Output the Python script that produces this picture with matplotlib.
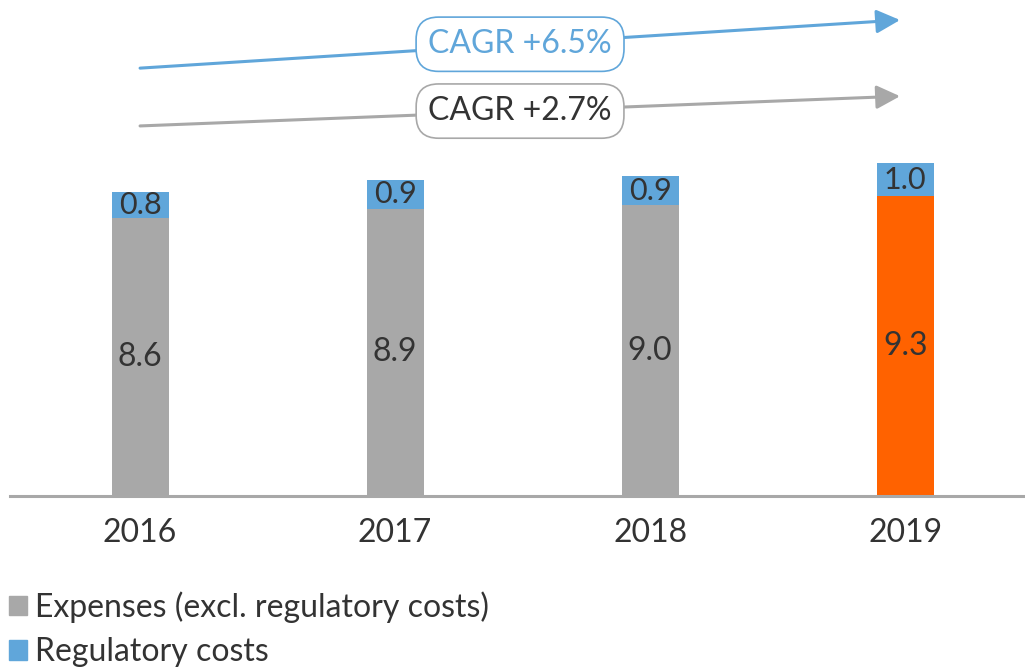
import matplotlib.pyplot as plt
from matplotlib.patches import Patch

years = ['2016', '2017', '2018', '2019']
expenses = [8.6, 8.9, 9.0, 9.3]
regulatory = [0.8, 0.9, 0.9, 1.0]
cagr_labels = ['CAGR +6.5%', 'CAGR +2.7%']

grey = '#A8A8A8'
blue = '#60A6DA'
orange = '#FF6200'
txt = '#333333'

plt.rcParams['font.family'] = ['Lato', 'DejaVu Sans']

fig = plt.figure(figsize=(10.25, 6.7), dpi=100)
# axes spans from the baseline up to the top of the figure
ax = fig.add_axes([10 / 1025, 174 / 670, 1015 / 1025, 496 / 670])

x = list(range(len(years)))
exp_colors = [grey, grey, grey, orange]
ax.bar(x, expenses, width=0.224, color=exp_colors)
ax.bar(x, regulatory, width=0.224, bottom=expenses, color=blue)

for i in x:
    ax.text(i, expenses[i] / 2, f'{expenses[i]:.1f}', ha='center', va='center',
            fontsize=23, color=txt)
    ax.text(i, expenses[i] + regulatory[i] / 2, f'{regulatory[i]:.1f}', ha='center',
            va='center', fontsize=22, color=txt)

ax.set_xlim(-0.51, 3.47)
ax.set_ylim(0, 15.36)

for s in ['top', 'left', 'right']:
    ax.spines[s].set_visible(False)
ax.spines['bottom'].set_color(grey)
ax.spines['bottom'].set_linewidth(2.2)
ax.set_yticks([])
ax.set_xticks(x)
ax.set_xticklabels(years, fontsize=23, color=txt)
ax.tick_params(axis='x', length=0, pad=16)

# CAGR arrows
ax.annotate('', xy=(2.98, 14.74), xytext=(0, 13.25),
            arrowprops=dict(arrowstyle='-|>', color=blue, lw=2.2, mutation_scale=36,
                            shrinkA=0, shrinkB=0), annotation_clip=False)
ax.annotate('', xy=(2.98, 12.38), xytext=(0, 11.46),
            arrowprops=dict(arrowstyle='-|>', color=grey, lw=2.2, mutation_scale=36,
                            shrinkA=0, shrinkB=0), annotation_clip=False)
ax.text(1.49, 13.99, cagr_labels[0], ha='center', va='center', fontsize=23, color=blue,
        bbox=dict(boxstyle='round,pad=0.38,rounding_size=0.7', fc='white', ec=blue, lw=1.2))
ax.text(1.49, 11.92, cagr_labels[1], ha='center', va='center', fontsize=23, color=txt,
        bbox=dict(boxstyle='round,pad=0.38,rounding_size=0.7', fc='white', ec=grey, lw=1.2))

handles = [Patch(color=grey, label='Expenses (excl. regulatory costs)'),
           Patch(color=blue, label='Regulatory costs')]
leg = fig.legend(handles=handles, loc='lower left', bbox_to_anchor=(-0.004, -0.015),
                 frameon=False, fontsize=23, handlelength=0.56, handleheight=0.56,
                 handletextpad=0.25, labelspacing=0.45, borderaxespad=0.2,
                 borderpad=0.2)
for t in leg.get_texts():
    t.set_color(txt)

fig.savefig('out.png', dpi=100)
